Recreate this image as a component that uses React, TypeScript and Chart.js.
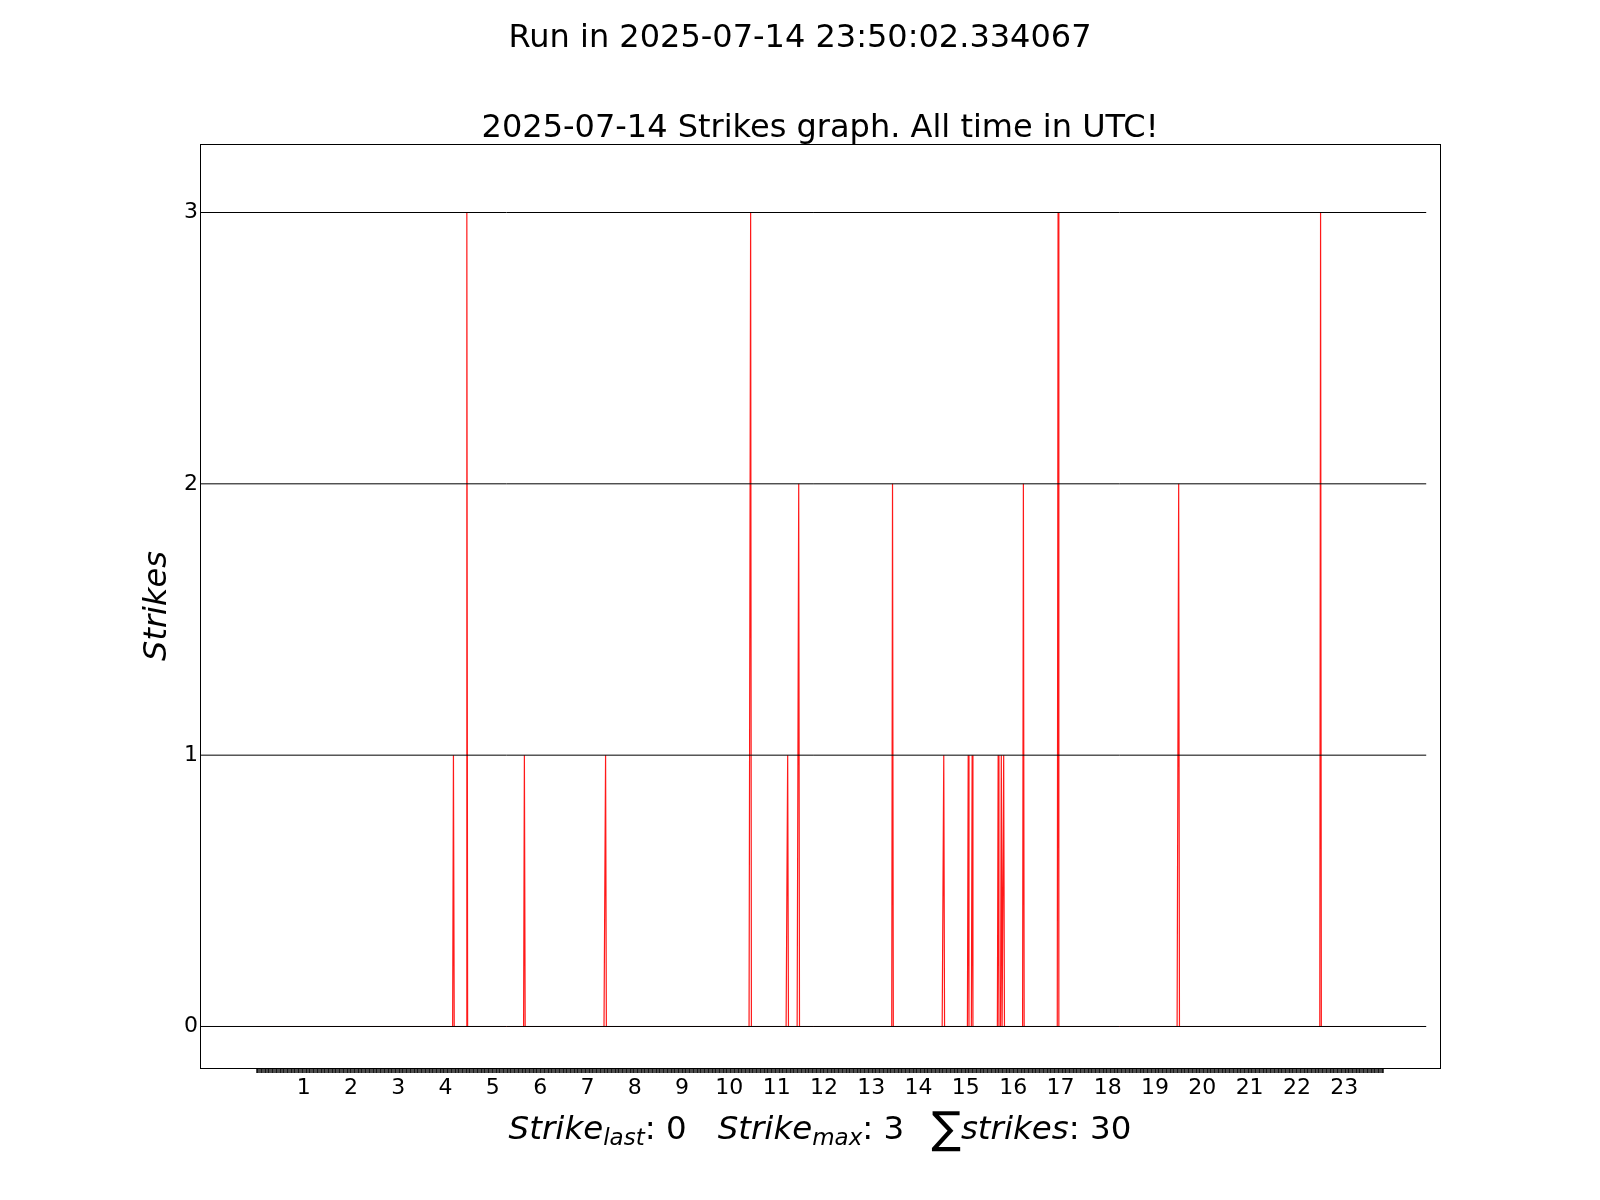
import React, { useEffect, useRef } from 'react';
import { Chart, registerables } from 'chart.js';

Chart.register(...registerables);

// ---- texts ----
const SUPTITLE = 'Run in 2025-07-14 23:50:02.334067';
const TITLE = '2025-07-14 Strikes graph. All time in UTC!';
const Y_LABEL = 'Strikes';

// ---- data (minute of day, UTC) ----
const strikeMinutes = [250, 267, 340, 443, 627, 674, 688, 807, 872, 903, 908, 941, 945, 948, 973, 1017, 1170, 1350];
const strikeCounts = [1, 3, 1, 1, 3, 1, 2, 2, 1, 1, 1, 1, 1, 1, 2, 3, 2, 3];
const firstMinute = 0;
const lastMinute = 1430; // 23:50 run time

// ---- ticks ----
const hourLabels = ['1', '2', '3', '4', '5', '6', '7', '8', '9', '10', '11', '12', '13', '14', '15', '16', '17', '18', '19', '20', '21', '22', '23'];
const hourTickMinutes = [60, 120, 180, 240, 300, 360, 420, 480, 540, 600, 660, 720, 780, 840, 900, 960, 1020, 1080, 1140, 1200, 1260, 1320, 1380];
const yTicks = [0, 1, 2, 3];
const hLineLevels = [0, 1, 2, 3];
const hLineEnd = 1484;

// ---- axis ranges ----
const xMin = -71.5;
const xMax = 1501.5;
const yMin = -0.153;
const yMax = 3.2525;

const FONT = "'DejaVu Sans', 'Liberation Sans', sans-serif";

function buildMinuteSeries() {
  const lookup = new Map<number, number>();
  strikeMinutes.forEach((m, i) => lookup.set(m, (lookup.get(m) || 0) + strikeCounts[i]));
  const pts: { x: number; y: number }[] = [];
  for (let m = firstMinute; m <= lastMinute; m++) {
    pts.push({ x: m, y: lookup.get(m) || 0 });
  }
  return pts;
}

function buildMinuteTicks() {
  const t: { value: number }[] = [];
  for (let m = firstMinute; m <= lastMinute; m++) t.push({ value: m });
  return t;
}

const textPlugin = {
  id: 'figureTexts',
  afterDraw(chart: any) {
    const { ctx, chartArea } = chart;
    const cx = (chartArea.left + chartArea.right) / 2;
    const cy = (chartArea.top + chartArea.bottom) / 2;
    ctx.save();
    ctx.fillStyle = '#000';
    ctx.textAlign = 'center';
    ctx.textBaseline = 'middle';
    ctx.font = `32px ${FONT}`;
    ctx.fillText(SUPTITLE, chart.width / 2, 39);
    ctx.fillText(TITLE, cx, 129);

    ctx.save();
    ctx.translate(158, cy);
    ctx.rotate(-Math.PI / 2);
    ctx.font = `italic 32px ${FONT}`;
    ctx.fillText(Y_LABEL, 0, 0);
    ctx.restore();

    // x label (math-like text)
    const lastVal = buildMinuteSeries().slice(-1)[0].y;
    const maxVal = Math.max(...strikeCounts);
    const sumVal = strikeCounts.reduce((a, b) => a + b, 0);
    const pieces = [
      { t: 'Strike', f: `italic 32.5px ${FONT}`, dy: 0 },
      { t: 'last', f: `italic 23px ${FONT}`, dy: 6 },
      { t: `: ${lastVal}   `, f: `32.5px ${FONT}`, dy: 0 },
      { t: 'Strike', f: `italic 32.5px ${FONT}`, dy: 0 },
      { t: 'max', f: `italic 23px ${FONT}`, dy: 6 },
      { t: `: ${maxVal}   `, f: `32.5px ${FONT}`, dy: 0 },
      { t: '\u2211', f: `44px ${FONT}`, dy: 4 },
      { t: 'strikes', f: `italic 32.5px ${FONT}`, dy: 0 },
      { t: `: ${sumVal}`, f: `32.5px ${FONT}`, dy: 0 },
    ];
    let total = 0;
    const widths = pieces.map((p) => {
      ctx.font = p.f;
      const w = ctx.measureText(p.t).width;
      total += w;
      return w;
    });
    // the third gap in the reference is a little narrower than three spaces
    widths[5] -= 4;
    total -= 4;
    let x = cx - total / 2;
    const base = 1139;
    ctx.textAlign = 'left';
    ctx.textBaseline = 'alphabetic';
    pieces.forEach((p, i) => {
      ctx.font = p.f;
      ctx.fillText(p.t, x, base + p.dy);
      x += widths[i];
    });

    // spines
    ctx.strokeStyle = '#000';
    ctx.lineWidth = 1;
    ctx.strokeRect(chartArea.left + 0.5, chartArea.top + 0.5, chartArea.right - chartArea.left, chartArea.bottom - chartArea.top);
    ctx.restore();
  },
};

export default function App() {
  const ref = useRef<HTMLCanvasElement | null>(null);

  useEffect(() => {
    if (!ref.current) return;
    const hDatasets = hLineLevels.map((lv) => ({
      label: `h${lv}`,
      data: [
        { x: xMin, y: lv },
        { x: hLineEnd, y: lv },
      ],
      borderColor: '#000',
      borderWidth: 1,
      pointRadius: 0,
      fill: false,
      order: 0,
    }));
    const chart = new Chart(ref.current, {
      type: 'line',
      data: {
        datasets: [
          ...hDatasets,
          {
            label: 'strikes',
            data: buildMinuteSeries(),
            borderColor: 'rgba(255,0,0,0.9)',
            borderWidth: 1.2,
            pointRadius: 0,
            fill: false,
            tension: 0,
            order: 1,
          },
        ],
      },
      options: {
        animation: false,
        responsive: false,
        devicePixelRatio: 1,
        layout: { padding: { top: 144, left: 0, right: 160, bottom: 0 } },
        plugins: { legend: { display: false }, title: { display: false }, tooltip: { enabled: false } },
        scales: {
          x: {
            type: 'linear',
            min: xMin,
            max: xMax,
            afterBuildTicks: (scale: any) => {
              scale.ticks = buildMinuteTicks();
            },
            afterFit: (scale: any) => {
              scale.height = 132;
            },
            ticks: {
              autoSkip: false,
              maxRotation: 0,
              minRotation: 0,
              padding: 2,
              color: '#000',
              font: { family: FONT, size: 22 },
              callback: (value: any) => {
                const i = hourTickMinutes.indexOf(Number(value));
                return i >= 0 ? hourLabels[i] : '';
              },
            },
            grid: {
              display: true,
              drawOnChartArea: false,
              drawTicks: true,
              tickLength: 5,
              color: '#000',
              lineWidth: 0.7,
            },
            border: { display: false },
          },
          y: {
            type: 'linear',
            min: yMin,
            max: yMax,
            afterBuildTicks: (scale: any) => {
              scale.ticks = yTicks.map((v) => ({ value: v }));
            },
            afterFit: (scale: any) => {
              scale.width = 200;
            },
            ticks: {
              padding: 2,
              color: '#000',
              font: { family: FONT, size: 22 },
              callback: (value: any) => String(value),
            },
            grid: { display: false, drawTicks: false, tickLength: 0 },
            border: { display: false },
          },
        },
      },
      plugins: [textPlugin],
    } as any);
    return () => chart.destroy();
  }, []);

  return (
    <div style={{ position: 'absolute', left: 0, top: 0, width: 1600, height: 1200, background: '#fff' }}>
      <canvas ref={ref} width={1600} height={1200} style={{ display: 'block' }} />
    </div>
  );
}
